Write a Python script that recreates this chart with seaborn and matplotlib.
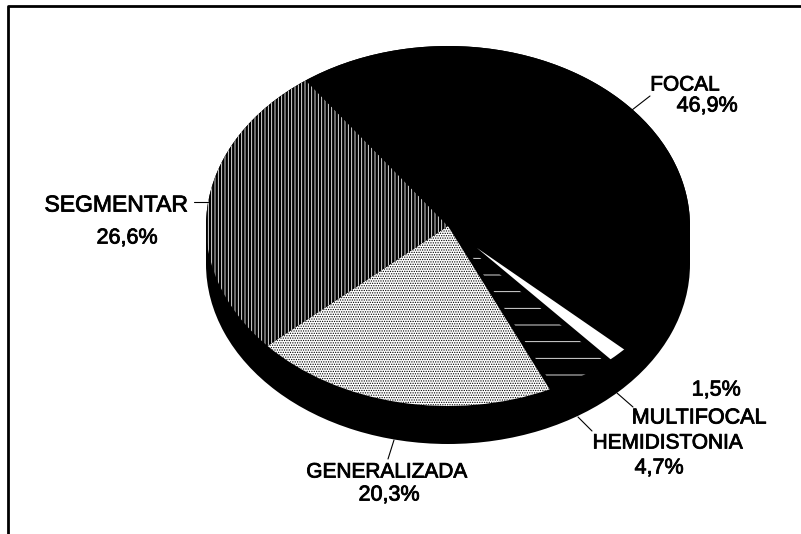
"""Tipos de distonia, pie 3D"""

import numpy as np
import matplotlib
matplotlib.use("Agg")
import matplotlib.pyplot as plt
import matplotlib.patheffects as pe
from matplotlib.patches import Circle
import seaborn as sns

categorias = ["FOCAL", "MULTIFOCAL", "HEMIDISTONIA", "GENERALIZADA", "SEGMENTAR"]
valores = [46.9, 1.5, 4.7, 20.3, 26.6]
colores = ["black", "white", "black", "white", "black"]
tramas = [None, None, "-", ".......", "|||||"]
tramas_color = ["black", "white", "white", "black", "white"]
separacion = [0, 0.17, 0.13, 0, 0]
etiquetas_pct = ["46,9%", "1,5%", "4,7%", "20,3%", "26,6%"]

sns.set_theme(style="white")
plt.rcParams["font.family"] = ["Liberation Sans", "DejaVu Sans"]
plt.rcParams["hatch.linewidth"] = 0.6

fig = plt.figure(figsize=(8.01, 5.34), dpi=100)

# ejes del pie: 1 unidad = semieje de la elipse en pixeles
cx, cy, rx, ry, fondo = 448, 226, 242, 180, 38
ax = fig.add_axes([0, 0, 1, 1])

# lado negro del pie y base de la cara superior
sin_borde = {"linewidth": 0}
ax.pie([1], colors=["black"], radius=1, center=(0, -fondo / ry), wedgeprops=sin_borde)
ax.pie([1], colors=["black"], radius=1, center=(0, 0), wedgeprops=sin_borde)
ax.fill_between([-1, 1], -fondo / ry, 0, color="black", lw=0)

wedges, _ = ax.pie(valores, colors=colores, startangle=126, counterclock=False,
                   radius=1, center=(0, 0), explode=separacion,
                   wedgeprops=sin_borde)
# las porciones separadas no salen de la elipse
borde = Circle((0, 0), 1, transform=ax.transData, fill=False, lw=0)
ax.add_patch(borde)
for w, h, c, s in zip(wedges, tramas, tramas_color, separacion):
    if h:
        w.set_hatch(h)
        w.set_edgecolor(c)
        w.set_linewidth(0)
    if s:
        w.set_clip_on(True)
        w.set_clip_path(borde)
# focal encima
wedges[0].set_zorder(5)

ax.set_aspect("auto")
ax.set_xlim((0 - cx) / rx, (801 - cx) / rx)
ax.set_ylim((cy - 534) / ry, cy / ry)
ax.axis("off")

# textos y marco en pixeles
px = fig.add_axes([0, 0, 1, 1], facecolor="none")
px.set_xlim(0, 801)
px.set_ylim(534, 0)
px.axis("off")

px.plot([7.5, 7.5, 801], [534, 6, 6], color="black", lw=2)

negrita = [pe.withStroke(linewidth=0.6, foreground="black")]
kw = dict(color="black", va="center", ha="center", path_effects=negrita)
px.text(685, 85, categorias[0], fontsize=15, **kw)
px.text(707, 106, etiquetas_pct[0], fontsize=15.5, **kw)
px.text(116, 205, categorias[4], fontsize=16.5, **kw)
px.text(127, 238, etiquetas_pct[4], fontsize=15.5, **kw)
px.text(716, 390, etiquetas_pct[1], fontsize=15.5, **kw)
px.text(699, 418, categorias[1], fontsize=15.5, **kw)
px.text(668, 443, categorias[2], fontsize=15, **kw)
px.text(659, 468, etiquetas_pct[2], fontsize=15.5, **kw)
px.text(387, 472, categorias[3], fontsize=15, **kw)
px.text(389, 495, etiquetas_pct[3], fontsize=15.5, **kw)

# lineas guia
for xs, ys in [([632, 650], [110, 96]), ([194, 208], [202, 202]),
               ([617, 633], [393, 407]), ([578, 592], [417, 431]),
               ([394, 388], [440, 459])]:
    px.plot(xs, ys, color="black", lw=0.8)

fig.savefig("out.png", dpi=100)
